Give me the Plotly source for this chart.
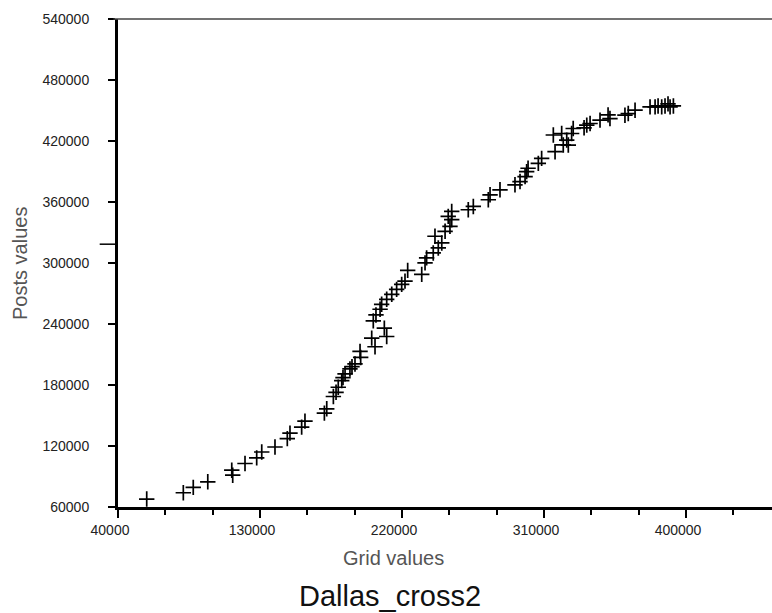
import plotly.graph_objects as go

# Data (Grid values, Posts values)
grid_values = [
    58200, 81400, 87700, 96900, 112100, 112700, 120500, 127900, 131100, 139500,
    147300, 149000, 156400, 158500, 170800, 172300, 176500, 178200, 179600, 181800,
    182600, 183900, 187000, 188300, 190200, 193800, 193400, 202900, 200800, 210300,
    208800, 201800, 203500, 206100, 207100, 210300, 213500, 216600, 219800, 221900,
    223600, 232500, 234600, 235600, 239800, 243000, 245200, 240900, 247300, 250400,
    251500, 249300, 251500, 262000, 265200, 274700, 275800, 282100, 291600, 294800,
    298000, 299000, 299900, 306400, 308500, 317000, 322200, 315900, 321200, 324400,
    325400, 327500, 328500, 337100, 339200, 335400, 345500, 351800, 350600, 361300,
    363400, 367700, 377200, 380400, 382300, 384600, 386700, 389900, 392000, 388600,
]
posts_values = [
    67800, 74000, 79300, 84800, 96200, 91300, 102800, 108300, 114100, 119000,
    127300, 132700, 138600, 144500, 152300, 156600, 168700, 172800, 177800, 184300,
    187300, 190900, 195800, 198000, 200700, 207100, 213000, 217600, 226100, 227700,
    235900, 243100, 248900, 254500, 259400, 264300, 269200, 274100, 279000, 282200,
    292700, 288800, 300100, 305000, 309900, 314800, 319700, 326300, 331200, 336100,
    342600, 345900, 350800, 352400, 355600, 362200, 367100, 372000, 376900, 380100,
    385000, 389900, 393200, 398000, 402900, 409500, 416100, 425900, 427400, 420900,
    416000, 427400, 432300, 435600, 437200, 433000, 440500, 442100, 445700, 445400,
    447000, 450300, 453600, 453600, 454500, 453600, 454500, 453600, 454500, 456500,
]

x_ticks = [40000, 130000, 220000, 310000, 400000]
y_ticks = [60000, 120000, 180000, 240000, 300000, 360000, 420000, 480000, 540000]

chart_title = "Dallas_cross2"
x_title = "Grid values"
y_title = "Posts values"

W, H = 772, 613
L, R, T, B = 118, 0, 19, 106

fig = go.Figure()
fig.add_trace(go.Scatter(
    x=grid_values, y=posts_values, mode="markers",
    marker=dict(symbol="cross-thin", size=11, color="black",
                line=dict(color="black", width=1.7)),
    showlegend=False, cliponaxis=False,
))

tick_font = dict(family="Liberation Sans, Arial, sans-serif", size=14, color="#222")
FONT = "Liberation Sans, Arial, sans-serif"

fig.update_layout(
    width=W, height=H,
    margin=dict(l=L, r=R, t=T, b=B, pad=0),
    paper_bgcolor="white", plot_bgcolor="white",
    xaxis=dict(
        range=[40000, 454500], tickmode="array", tickvals=x_ticks,
        ticktext=[str(v) for v in x_ticks], automargin=False,
        showgrid=False, zeroline=False,
        showline=True, linecolor="black", linewidth=3,
        ticks="outside", ticklen=8, tickwidth=1.5, tickcolor="black",
        tickfont=tick_font, ticklabelstandoff=0, ticklabelshift=-8,
        minor=dict(tickvals=[70000, 100000, 160000, 190000, 250000, 280000,
                             340000, 370000, 430000],
                   ticks="outside", ticklen=5, tickwidth=1.5, tickcolor="black",
                   showgrid=False),
    ),
    yaxis=dict(
        range=[60000, 540000], tickmode="array", tickvals=y_ticks,
        ticktext=[str(v) for v in y_ticks], automargin=False,
        showgrid=False, zeroline=False,
        showline=True, linecolor="black", linewidth=3,
        ticks="outside", ticklen=7, tickwidth=1.5, tickcolor="black",
        tickfont=tick_font, ticklabelstandoff=16,
    ),
    shapes=[
        dict(type="line", xref="paper", yref="paper", x0=-0.007, x1=1, y0=1, y1=1,
             line=dict(color="#444", width=1.5)),
        dict(type="line", xref="paper", yref="y", x0=-0.028, x1=-0.003,
             y0=318500, y1=318500, line=dict(color="black", width=1.5)),
    ],
    annotations=[
        dict(text=x_title, xref="paper", yref="paper", x=(393 - L) / 654,
             y=(507 - 558) / 488, showarrow=False, xanchor="center", yanchor="middle",
             font=dict(family=FONT, size=20, color="#555")),
        dict(text=y_title, xref="paper", yref="paper", x=(20 - L) / 654,
             y=(507 - 264) / 488, showarrow=False, textangle=-90,
             xanchor="center", yanchor="middle",
             font=dict(family=FONT, size=20, color="#555")),
        dict(text=chart_title, xref="paper", yref="paper", x=(390 - L) / 654,
             y=(507 - 596) / 488, showarrow=False, xanchor="center", yanchor="middle",
             font=dict(family=FONT, size=29, color="#111")),
    ],
)

fig.write_html(
    "out.html",
    config={"displayModeBar": False},
    post_script="document.body.style.margin='0';document.body.style.overflow='hidden';",
)
